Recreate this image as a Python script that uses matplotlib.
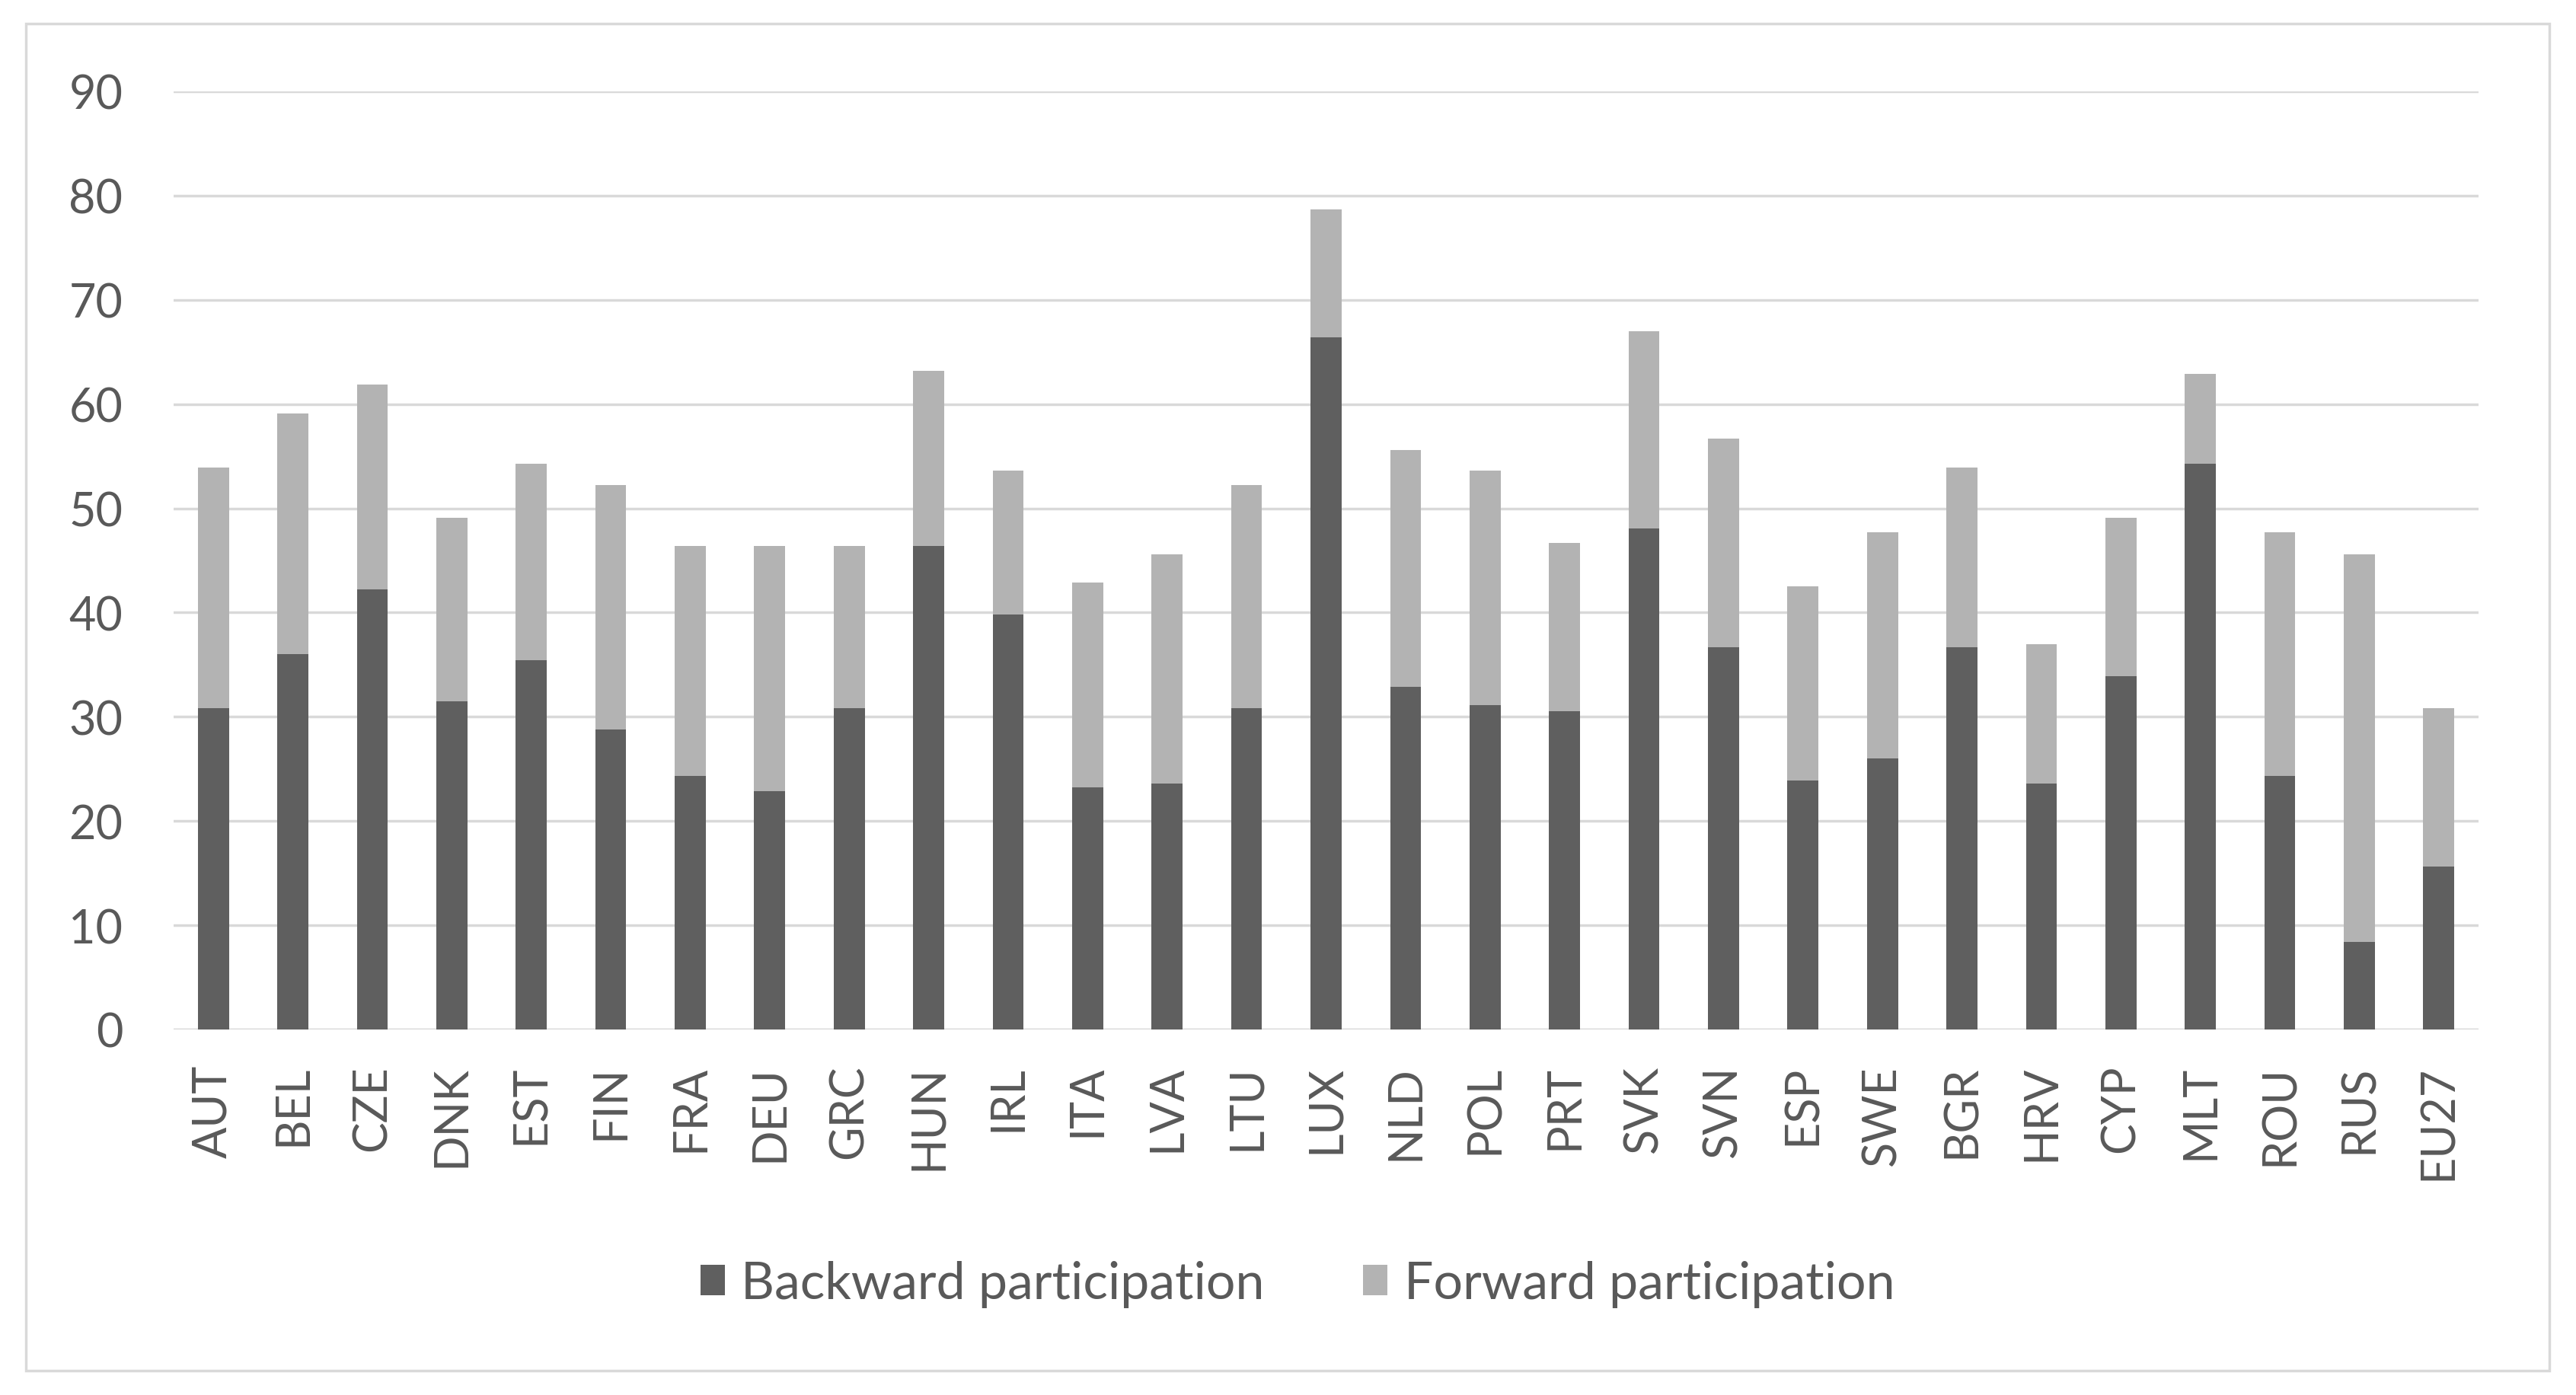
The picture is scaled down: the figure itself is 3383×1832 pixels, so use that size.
import matplotlib.pyplot as plt
import numpy as np
from matplotlib.patches import Rectangle

countries = ['AUT', 'BEL', 'CZE', 'DNK', 'EST', 'FIN', 'FRA', 'DEU', 'GRC', 'HUN',
             'IRL', 'ITA', 'LVA', 'LTU', 'LUX', 'NLD', 'POL', 'PRT', 'SVK', 'SVN',
             'ESP', 'SWE', 'BGR', 'HRV', 'CYP', 'MLT', 'ROU', 'RUS', 'EU27']

# backward participation (dark) and total height (backward + forward)
backward = [30.8, 36.0, 42.2, 31.5, 35.4, 28.8, 24.3, 22.9, 30.8, 46.4,
            39.8, 23.2, 23.6, 30.8, 66.4, 32.9, 31.1, 30.5, 48.1, 36.7,
            23.9, 26.0, 36.7, 23.6, 33.9, 54.3, 24.3, 8.4, 15.6]
total = [53.9, 59.1, 61.9, 49.1, 54.3, 52.2, 46.4, 46.4, 46.4, 63.2,
         53.6, 42.9, 45.6, 52.2, 78.7, 55.6, 53.6, 46.7, 67.0, 56.7,
         42.5, 47.7, 53.9, 37.0, 49.1, 62.9, 47.7, 45.6, 30.8]
forward = [t - b for t, b in zip(total, backward)]

DARK = '#5f5f5f'
LIGHT = '#b3b3b3'
GRID = '#d9d9d9'
TEXT = '#595959'

plt.rcParams['font.family'] = ['Lato', 'DejaVu Sans']

W, H = 3383, 1833
fig = plt.figure(figsize=(W / 100, H / 100), dpi=100)
ax = fig.add_axes([228 / W, 1 - 1353 / H, 3027 / W, (1353 - 121) / H])

x = np.arange(len(countries))
ax.bar(x, backward, width=0.39, color=DARK, label='Backward participation', zorder=3)
ax.bar(x, forward, width=0.39, bottom=backward, color=LIGHT,
       label='Forward participation', zorder=3)

ax.set_xlim(-0.5, len(countries) - 0.5)
ax.set_ylim(0, 90)
ax.set_yticks(np.arange(0, 91, 10))
ax.yaxis.grid(True, color=GRID, linewidth=2.5, zorder=0)
ax.set_axisbelow(True)
for s in ax.spines.values():
    s.set_visible(False)
ax.axhline(0, color=GRID, linewidth=2.5, zorder=2)

ax.set_xticks(x)
ax.set_xticklabels(countries, rotation=90)
ax.tick_params(axis='both', length=0, colors=TEXT, labelsize=44)
ax.tick_params(axis='x', pad=33)
ax.tick_params(axis='y', pad=48)

fig.legend(loc='center', bbox_to_anchor=(1704 / W, 1 - 1687 / H), ncol=2,
           frameon=False, fontsize=49, labelcolor=TEXT,
           handlelength=0.47, handleheight=0.54, handletextpad=0.32,
           columnspacing=1.9)

fig.patches.append(Rectangle((34 / W, 1 - 1801 / H), (3348 - 34) / W, (1801 - 32) / H,
                             transform=fig.transFigure, fill=False,
                             edgecolor=GRID, linewidth=2.5))

fig.savefig('out.png', dpi=100, facecolor='white')
